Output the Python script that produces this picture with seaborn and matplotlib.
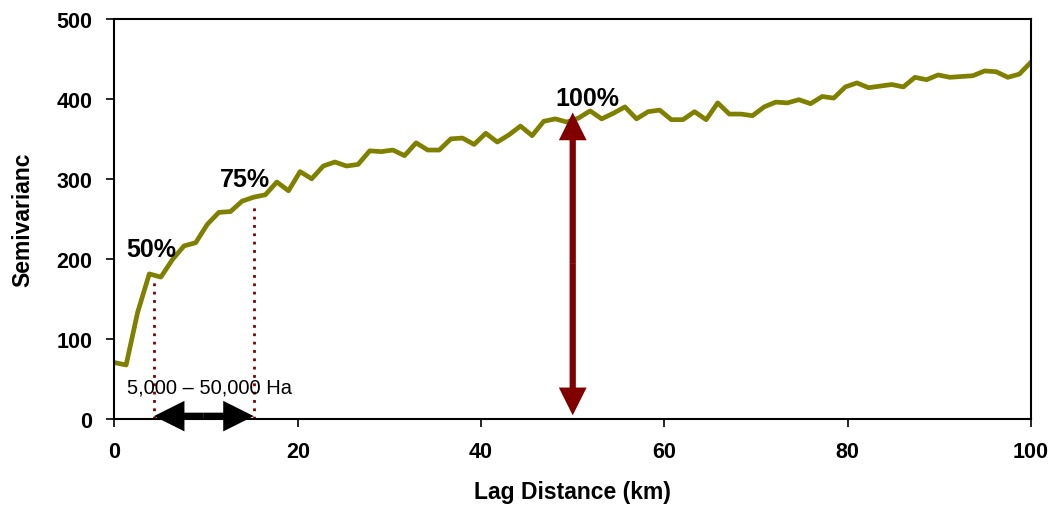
import numpy as np
import pandas as pd
import matplotlib
matplotlib.use('Agg')
import matplotlib.pyplot as plt
import seaborn as sns

# ================= data =================
lag_km = [0.00, 1.27, 2.53, 3.80, 5.06, 6.33, 7.59, 8.86, 10.13, 11.39,
          12.66, 13.92, 15.19, 16.46, 17.72, 18.99, 20.25, 21.52, 22.78, 24.05,
          25.32, 26.58, 27.85, 29.11, 30.38, 31.65, 32.91, 34.18, 35.44, 36.71,
          37.97, 39.24, 40.51, 41.77, 43.04, 44.30, 45.57, 46.84, 48.10, 49.37,
          50.63, 51.90, 53.16, 54.43, 55.70, 56.96, 58.23, 59.49, 60.76, 62.03,
          63.29, 64.56, 65.82, 67.09, 68.35, 69.62, 70.89, 72.15, 73.42, 74.68,
          75.95, 77.22, 78.48, 79.75, 81.01, 82.28, 83.54, 84.81, 86.08, 87.34,
          88.61, 89.87, 91.14, 92.41, 93.67, 94.94, 96.20, 97.47, 98.73, 100.00]
semivar = [70, 67, 133, 181, 177, 199, 216, 220, 243, 258,
           259, 272, 277, 280, 296, 285, 309, 300, 316, 321,
           316, 318, 335, 334, 336, 329, 345, 336, 336, 350,
           351, 343, 357, 346, 355, 366, 354, 372, 375, 371,
           376, 385, 375, 382, 390, 375, 384, 386, 374, 374,
           384, 374, 395, 381, 381, 379, 390, 396, 395, 399,
           394, 403, 401, 415, 420, 414, 416, 418, 415, 427,
           424, 430, 427, 428, 429, 435, 434, 427, 431, 446]

# 百分比标注 (x, y, 文本)
pct_labels = ['50%', '75%', '100%']
pct_x = [4.0, 14.2, 51.6]
pct_y = [212, 300, 401]

# 范围线 (虚线) 与箭头
range_x = [4.3, 15.2]
range_top = [171, 270]
sill_x = 50
sill_top = 383
sill_bottom = 4
range_text = '5,000 – 50,000 Ha'

df = pd.DataFrame({'lag': lag_km, 'gamma': semivar})

# ================= plot =================
sns.set_style('ticks')
plt.rcParams['font.family'] = ['Liberation Sans', 'DejaVu Sans']
plt.rcParams['text.color'] = 'black'
plt.rcParams['axes.labelcolor'] = 'black'

fig = plt.figure(figsize=(10.56, 5.06), dpi=100)
ax = fig.add_axes([0.1084, 0.1709, 0.8679, 0.7896])

sns.lineplot(data=df, x='lag', y='gamma', color='#808000', lw=3.4, ax=ax)

ax.set_xlim(0, 100)
ax.set_ylim(0, 500)
ax.set_xticks([0, 20, 40, 60, 80, 100])
ax.set_yticks([0, 100, 200, 300, 400, 500])
for s in ax.spines.values():
    s.set_color('black')
    s.set_linewidth(1.5)
ax.tick_params(direction='out', length=6, width=1.2, colors='black',
               labelsize=15.5, pad=10)
for t in ax.get_xticklabels() + ax.get_yticklabels():
    t.set_fontweight('bold')

ax.set_xlabel('Lag Distance (km)', fontsize=16.5, fontweight='bold', labelpad=13)
ax.set_ylabel('Semivarianc', fontsize=16.5, fontweight='bold', labelpad=16)

# 虚线
for x, top in zip(range_x, range_top):
    ax.plot([x, x], [0, top], color='#800000', ls=(0, (1, 2)), lw=2)

# 百分比文字
for lbl, x, y in zip(pct_labels, pct_x, pct_y):
    ax.text(x, y, lbl, fontsize=18, fontweight='bold', ha='center', va='center')

ax.text(range_x[0] - 2.9, 39, range_text, fontsize=14.5, ha='left', va='center')

# 黑色双向箭头 (水平)
mid = (range_x[0] + range_x[1]) / 2
for end in range_x:
    ax.annotate('', xy=(end, 3), xytext=(mid, 3),
                arrowprops=dict(arrowstyle='simple,head_length=22,head_width=22,tail_width=5',
                                mutation_scale=1, color='black', lw=0,
                                shrinkA=0, shrinkB=0),
                annotation_clip=False)

# 红色双向箭头 (竖直)
mid_y = (sill_top + sill_bottom) / 2
for end in [sill_top, sill_bottom]:
    ax.annotate('', xy=(sill_x, end), xytext=(sill_x, mid_y),
                arrowprops=dict(arrowstyle='simple,head_length=20,head_width=20,tail_width=4.5',
                                mutation_scale=1, color='#800000', lw=0,
                                shrinkA=0, shrinkB=0))

fig.savefig('out.png', dpi=100)
